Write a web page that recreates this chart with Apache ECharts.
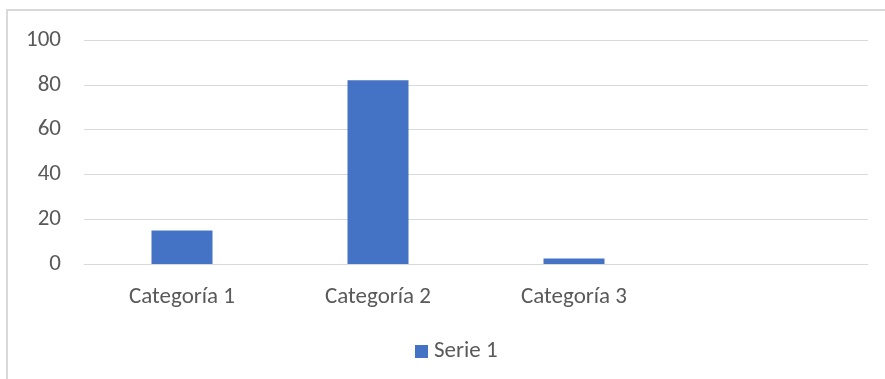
<!DOCTYPE html>
<html>
<head>
<meta charset="utf-8">
<style>
  html, body { margin: 0; padding: 0; background: #fff; }
  #chart { width: 885px; height: 379px; }
</style>
<script src="https://cdn.jsdelivr.net/npm/echarts@6/dist/echarts.min.js"></script>
</head>
<body>
<div id="chart"></div>
<script>
// Category slots (the fourth slot is left empty)
const categories = ['Categoría 1', 'Categoría 2', 'Categoría 3', ''];
const serieName = 'Serie 1';
const serie1 = [15, 82, 2.5];
const yTicks = { min: 0, max: 100, interval: 20 };

const textColor = '#595959';
const lineColor = '#d9d9d9';
const barColor = '#4472C4';
const fontFamily = 'Carlito, Calibri, Lato, "Liberation Sans", sans-serif';
const fontSize = 23;

const chart = echarts.init(document.getElementById('chart'), null, { renderer: 'canvas' });

chart.setOption({
  animation: false,
  backgroundColor: '#ffffff',
  textStyle: { fontFamily: fontFamily },
  graphic: [{
    type: 'rect',
    shape: { x: 7, y: 10, width: 1000, height: 1000 },
    style: { fill: 'none', stroke: lineColor, lineWidth: 2 },
    silent: true
  }],
  grid: { left: 84, right: 17, top: 40, bottom: 115, containLabel: false },
  legend: {
    data: [serieName],
    left: 410,
    top: 335,
    icon: 'rect',
    itemWidth: 13,
    itemHeight: 13,
    textStyle: { color: textColor, fontSize: fontSize, fontFamily: fontFamily, padding: [0, 0, 0, 1] }
  },
  xAxis: {
    type: 'category',
    data: categories,
    axisLine: { show: true, lineStyle: { color: lineColor, width: 1 } },
    axisTick: { show: false },
    axisLabel: { color: textColor, fontSize: fontSize, margin: 22, fontFamily: fontFamily },
    splitLine: { show: false }
  },
  yAxis: {
    type: 'value',
    min: yTicks.min,
    max: yTicks.max,
    interval: yTicks.interval,
    axisLine: { show: false },
    axisTick: { show: false },
    axisLabel: { color: textColor, fontSize: fontSize, margin: 23, fontFamily: fontFamily },
    splitLine: { lineStyle: { color: lineColor, width: 1 } }
  },
  series: [{
    name: serieName,
    type: 'bar',
    data: serie1,
    barWidth: 61,
    itemStyle: { color: barColor }
  }]
});
</script>
</body>
</html>
